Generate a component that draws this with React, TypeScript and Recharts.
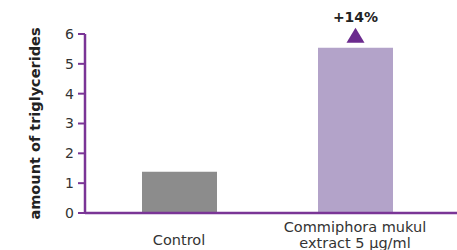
import { BarChart, Bar, XAxis, YAxis, Cell, LabelList } from 'recharts';

const categories = ['Control', 'Commiphora mukul\nextract 5 µg/ml'];
const values = [1.38, 5.54];
const barColors = ['#8c8c8c', '#b3a3c9'];
const yTicks = [0, 1, 2, 3, 4, 5, 6];
const changeLabels = ['', '+14%'];

const data = categories.map((name, i) => ({ name, value: values[i], change: changeLabels[i] }));

const PURPLE = '#7a3596';
const FONT = '"DejaVu Sans", sans-serif';

const XTick = ({ x, y, payload }: any) => {
  const lines = String(payload.value).split('\n');
  if (lines.length === 1) {
    return (
      <text x={x} y={y + 24} textAnchor="middle" fontSize={14.5} fill="#333" fontFamily={FONT}>
        {lines[0]}
      </text>
    );
  }
  return (
    <text x={x} y={y + 11} textAnchor="middle" fontSize={14.5} fill="#333" fontFamily={FONT}>
      {lines.map((l, i) => (
        <tspan key={i} x={x} dy={i === 0 ? 0 : 16}>{l}</tspan>
      ))}
    </text>
  );
};

const YLabel = ({ viewBox }: any) => {
  const cy = viewBox.y + viewBox.height / 2;
  return (
    <text
      x={40}
      y={cy}
      transform={`rotate(-90, 40, ${cy})`}
      textAnchor="middle"
      fontSize={14.5}
      fontWeight="bold"
      fill="#222"
      fontFamily={FONT}
    >
      amount of triglycerides
    </text>
  );
};

const ChangeMark = ({ x, y, width, value }: any) => {
  if (!value) return null;
  const cx = x + width / 2;
  return (
    <g>
      <polygon points={`${cx - 9},${y - 5} ${cx + 9},${y - 5} ${cx},${y - 20}`} fill="#6b2a8e" />
      <text x={cx} y={y - 26} textAnchor="middle" fontSize={14} fontWeight="bold" fill="#222" fontFamily={FONT}>
        {value}
      </text>
    </g>
  );
};

export default function App() {
  return (
    <div style={{ position: 'absolute', left: 0, top: 0, background: '#fff' }}>
      <BarChart width={457} height={250} data={data} margin={{ top: 34, right: 0, left: 0, bottom: 0 }}>
        <XAxis
          dataKey="name"
          height={37}
          axisLine={{ stroke: PURPLE, strokeWidth: 2.5 }}
          tickLine={false}
          tick={<XTick />}
          interval={0}
          padding={{ left: 6, right: 14 }}
        />
        <YAxis
          width={85}
          domain={[0, 6]}
          ticks={yTicks}
          axisLine={{ stroke: PURPLE, strokeWidth: 2.5 }}
          tickLine={{ stroke: PURPLE, strokeWidth: 2 }}
          tickSize={7}
          tickMargin={4}
          tick={{ fontSize: 14, fill: '#333', fontFamily: FONT }}
          label={<YLabel />}
        />
        <Bar dataKey="value" barSize={75} isAnimationActive={false}>
          {data.map((_, i) => (
            <Cell key={i} fill={barColors[i]} />
          ))}
          <LabelList dataKey="change" content={<ChangeMark />} />
        </Bar>
      </BarChart>
    </div>
  );
}
